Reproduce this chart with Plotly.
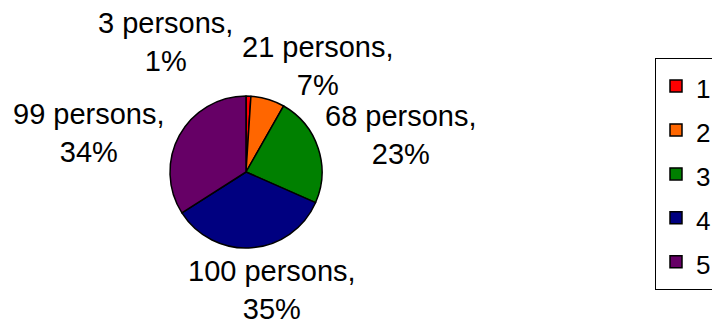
import plotly.graph_objects as go

# Survey groups and head counts
groups = ["1", "2", "3", "4", "5"]
persons = [3, 21, 68, 100, 99]
share_pct = [1, 7, 23, 35, 34]

slice_colors = ["#FF0000", "#FF6600", "#008000", "#000080", "#660066"]

W, H = 712, 326
FONT = "Arial, Liberation Sans, sans-serif"

# Label centres (pixels from top-left) for each slice's callout text
label_px = [(165, 42), (318, 66), (401, 135), (272, 290), (89, 133)]

# Pie placement in pixels
cx, cy, r = 246, 172, 76

legend_names = [f'<span style="font-size:26px">{g}</span>' for g in groups]

fig = go.Figure(
    go.Pie(
        labels=legend_names,
        values=persons,
        sort=False,
        direction="clockwise",
        rotation=0,
        marker=dict(colors=slice_colors, line=dict(color="black", width=1.5)),
        textinfo="none",
        hoverinfo="label+value+percent",
        domain=dict(
            x=[(cx - r) / W, (cx + r) / W],
            y=[1 - (cy + r) / H, 1 - (cy - r) / H],
        ),
        showlegend=True,
    )
)

annotations = []
for n, p, (px, py) in zip(persons, share_pct, label_px):
    annotations.append(
        dict(
            text=f"{n} persons,<br>{p}%",
            x=px / W,
            y=1 - py / H,
            xref="paper",
            yref="paper",
            xanchor="center",
            yanchor="middle",
            align="center",
            showarrow=False,
            font=dict(family=FONT, size=29, color="black"),
        )
    )

fig.update_layout(
    width=W,
    height=H,
    margin=dict(l=0, r=0, t=0, b=0, autoexpand=False),
    paper_bgcolor="white",
    plot_bgcolor="white",
    font=dict(family=FONT, color="black"),
    annotations=annotations,
    legend=dict(
        x=655 / W,
        y=1 - 58 / H,
        xanchor="left",
        yanchor="top",
        bordercolor="black",
        borderwidth=1,
        bgcolor="white",
        font=dict(family=FONT, size=31.5, color="black"),
        traceorder="normal",
    ),
)

fig.write_html("out.html")
